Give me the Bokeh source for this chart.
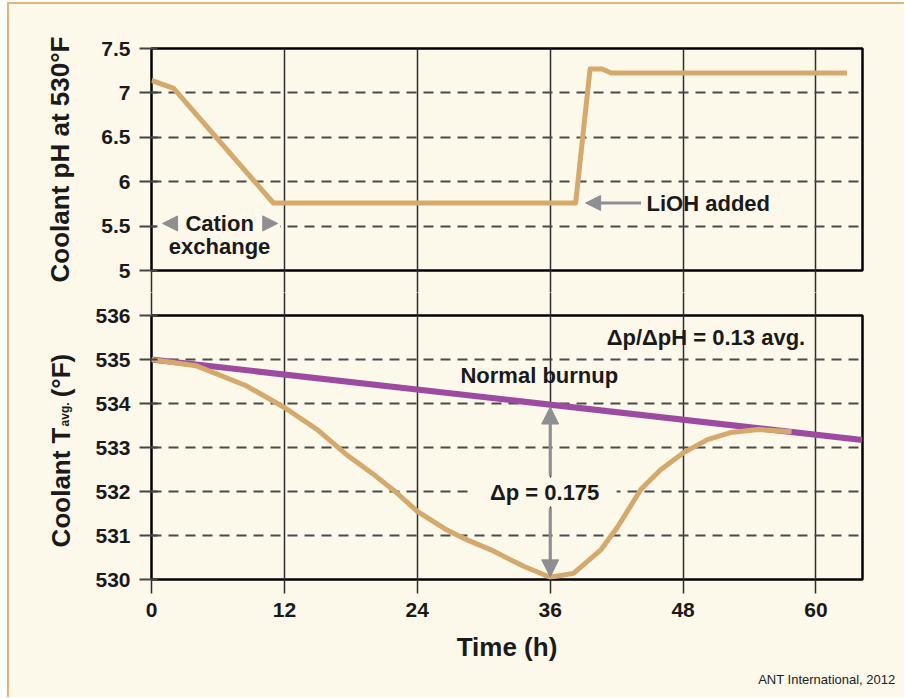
import math
from bokeh.plotting import figure
from bokeh.layouts import column, row
from bokeh.models import (Range1d, FixedTicker, LinearAxis, Label, Arrow, NormalHead,
                          BoxAnnotation, Title, CustomLabelingPolicy)
from bokeh.embed import file_html
from bokeh.resources import INLINE

# ---------------- data ----------------
x_ticks = [0, 12, 24, 36, 48, 60]
ph_ticks = [5, 5.5, 6, 6.5, 7, 7.5]
ph_tick_labels = ["5", "5.5", "6", "6.5", "7", "7.5"]
t_ticks = [530, 531, 532, 533, 534, 535, 536]
t_tick_labels = ["530", "531", "532", "533", "534", "535", "536"]

ph_time = [0, 2, 11, 38.3, 39.6, 40.7, 41.5, 62.8]
ph_vals = [7.14, 7.05, 5.76, 5.76, 7.27, 7.27, 7.225, 7.225]

tavg_time = [0, 4, 8.5, 12, 15, 17.5, 20, 22, 24, 26.5, 28.5, 30.6, 33.6, 36, 38.1,
             40.6, 42.1, 44.2, 46, 48.1, 50.2, 52.3, 54.8, 57.8]
tavg_vals = [535.0, 534.86, 534.41, 533.91, 533.4, 532.86, 532.4, 532.0, 531.55, 531.15,
             530.9, 530.68, 530.3, 530.05, 530.14, 530.68, 531.2, 532.05, 532.5, 532.89,
             533.18, 533.34, 533.41, 533.36]

burnup_time = [0, 64.2]
burnup_vals = [535.0, 533.17]

# ---------------- style ----------------
FONT = "Liberation Sans"
BG = "#fcf8ea"
TAN = "#d5a96b"
PURPLE = "#9d4aa1"
GRAY = "#8d8f93"
INK = "#1a1a1a"
GRID = "#4a4a4a"

W = 895
STRIP = 80
xr = Range1d(0, 64.2)
yr_t = Range1d(530, 536)

NO_LABELS = "for (const i of [...indices]) indices.unset(i); return indices"


def style_common(p):
    p.background_fill_color = BG
    p.border_fill_color = BG
    p.outline_line_color = "black"
    p.outline_line_width = 2.5
    p.xgrid.ticker = FixedTicker(ticks=x_ticks)
    p.xgrid.grid_line_color = "#2e2e2e"
    p.xgrid.grid_line_width = 1.5
    p.ygrid.grid_line_color = GRID
    p.ygrid.grid_line_width = 2
    p.ygrid.grid_line_dash = "10 7"
    ya = p.yaxis[0]
    ya.axis_line_color = None
    ya.major_tick_out = 12
    ya.major_tick_in = 6
    ya.major_tick_line_color = "#444444"
    ya.major_tick_line_width = 2
    ya.minor_tick_line_color = None
    ya.major_label_text_font = FONT
    ya.major_label_text_font_style = "bold"
    ya.major_label_text_font_size = "21px"
    ya.major_label_text_color = INK
    ya.major_label_standoff = 9


def head(size):
    return NormalHead(size=size, fill_color=GRAY, line_color=GRAY)


def mask(left, right, bottom, top_):
    return BoxAnnotation(left=left, right=right, bottom=bottom, top=top_, fill_color=BG,
                         fill_alpha=1, line_alpha=0, level="underlay")


def gap_axis(ax, length):
    # tick-only axis: its ticks carry the vertical grid lines across the gap between panels
    ax.ticker = FixedTicker(ticks=x_ticks)
    ax.axis_line_color = None
    ax.major_tick_out = length
    ax.major_tick_in = 0
    ax.major_tick_line_color = "#2e2e2e"
    ax.major_tick_line_width = 1.5
    ax.minor_tick_line_color = None
    ax.major_label_text_font_size = "0px"
    ax.major_label_standoff = 0
    ax.major_label_policy = CustomLabelingPolicy(code=NO_LABELS)


# ---------------- top panel ----------------
top = figure(width=W, height=288, x_range=xr, y_range=Range1d(5, 7.5),
             output_backend="svg", toolbar_location=None,
             min_border_left=142, min_border_right=42, min_border_top=44, min_border_bottom=22)
style_common(top)
ta = top.yaxis[0]
ta.ticker = FixedTicker(ticks=ph_ticks)
ta.major_label_overrides = {t: l for t, l in zip(ph_ticks, ph_tick_labels)}
ta.axis_label = "Coolant pH at 530°F"
ta.axis_label_text_font = FONT
ta.axis_label_text_font_style = "bold"
ta.axis_label_text_font_size = "26px"
ta.axis_label_text_color = INK
ta.axis_label_standoff = 23
top.ygrid.ticker = FixedTicker(ticks=ph_ticks)
gap_axis(top.xaxis[0], 22)

top.add_layout(mask(0.4, 11.6, 5.44, 5.62))
top.line(ph_time, ph_vals, line_color=TAN, line_width=5, line_join="round")

# Cation exchange annotation
top.add_layout(Arrow(x_start=2.5, y_start=5.53, x_end=1.0, y_end=5.53, line_alpha=0, end=head(15)))
top.add_layout(Arrow(x_start=9.9, y_start=5.53, x_end=11.4, y_end=5.53, line_alpha=0, end=head(15)))
top.add_layout(Label(x=6.15, y=5.53, text="Cation", text_align="center", text_baseline="middle",
                     text_font=FONT, text_font_style="bold", text_font_size="22px", text_color=INK))
top.add_layout(Label(x=6.15, y=5.265, text="exchange", text_align="center", text_baseline="middle",
                     text_font=FONT, text_font_style="bold", text_font_size="22px", text_color=INK))

# LiOH added
top.add_layout(Arrow(x_start=44.2, y_start=5.76, x_end=39.2, y_end=5.76, line_color=GRAY,
                     line_width=3, end=head(15)))
top.add_layout(Label(x=44.7, y=5.76, text="LiOH added", text_align="left", text_baseline="middle",
                     text_font=FONT, text_font_style="bold", text_font_size="22px", text_color=INK))

# ---------------- bottom panel ----------------
bot = figure(width=W - STRIP, height=405, x_range=xr, y_range=yr_t,
             output_backend="svg", toolbar_location=None,
             min_border_left=142 - STRIP, min_border_right=42, min_border_top=23,
             min_border_bottom=118)
style_common(bot)
bot.yaxis[0].ticker = FixedTicker(ticks=t_ticks)
bot.yaxis[0].major_label_overrides = {t: l for t, l in zip(t_ticks, t_tick_labels)}
bot.ygrid.ticker = FixedTicker(ticks=t_ticks)

bx = bot.xaxis[0]
bx.ticker = FixedTicker(ticks=x_ticks)
bx.axis_line_color = None
bx.major_tick_out = 14
bx.major_tick_in = 0
bx.major_tick_line_color = "#2e2e2e"
bx.major_tick_line_width = 1.5
bx.minor_tick_line_color = None
bx.major_label_text_font = FONT
bx.major_label_text_font_style = "bold"
bx.major_label_text_font_size = "21px"
bx.major_label_text_color = INK
bx.major_label_standoff = 9
bx.axis_label = "Time (h)"
bx.axis_label_text_font = FONT
bx.axis_label_text_font_style = "bold"
bx.axis_label_text_font_size = "26px"
bx.axis_label_text_color = INK
bx.axis_label_standoff = 12

ab = LinearAxis()
gap_axis(ab, 23)
bot.add_layout(ab, "above")

bot.add_layout(mask(28.6, 42.0, 531.66, 532.32))
bot.line(burnup_time, burnup_vals, line_color=PURPLE, line_width=6)
bot.line(tavg_time, tavg_vals, line_color=TAN, line_width=5, line_join="round")

bot.add_layout(Label(x=27.9, y=534.64, text="Normal burnup", text_align="left", text_baseline="middle",
                     text_font=FONT, text_font_style="bold", text_font_size="22px", text_color=INK))
bot.add_layout(Label(x=41.1, y=535.5, text="Δp/ΔpH = 0.13 avg.", text_align="left",
                     text_baseline="middle", text_font=FONT, text_font_style="bold",
                     text_font_size="22px", text_color=INK))

bot.add_layout(Arrow(x_start=36, y_start=532.36, x_end=36, y_end=533.92, line_color=GRAY,
                     line_width=3, end=head(17)))
bot.add_layout(Arrow(x_start=36, y_start=531.62, x_end=36, y_end=530.06, line_color=GRAY,
                     line_width=3, end=head(17)))
bot.add_layout(Label(x=35.5, y=531.98, text="Δp = 0.175", text_align="center", text_baseline="middle",
                     text_font=FONT, text_font_style="bold", text_font_size="22px", text_color=INK))

bot.add_layout(Title(text="ANT International, 2012", align="right", offset=-33,
                     text_font=FONT, text_font_style="normal", text_font_size="13px",
                     text_color="#222222"), "below")

# ---------------- strip holding the rotated bottom y label ----------------
# (its frame lines up with the bottom panel's frame, so it shares that y range)
strip = figure(width=STRIP, height=405, x_range=Range1d(0, STRIP), y_range=yr_t,
               output_backend="svg", toolbar_location=None, min_border=0,
               x_axis_location=None, y_axis_location=None)
strip.background_fill_color = BG
strip.border_fill_color = BG
strip.outline_line_color = None
strip.grid.visible = False
for txt, lx, ly, size in [("Coolant T", 51, 530.73, "26px"), ("avg.", 55, 533.48, "12px"),
                          ("(°F)", 51, 534.14, "26px")]:
    strip.add_layout(Label(x=lx, y=ly, text=txt, angle=math.pi / 2, text_align="left",
                           text_baseline="alphabetic", text_font=FONT, text_font_style="bold",
                           text_font_size=size, text_color=INK))

layout = column(top, row(strip, bot), margin=(2, 0, 0, 7),
                styles={"background-color": BG,
                        "border-top": "2px solid #e4b676",
                        "border-left": "2px solid #e4b676"})

open("out.html", "w").write(file_html(layout, INLINE))
